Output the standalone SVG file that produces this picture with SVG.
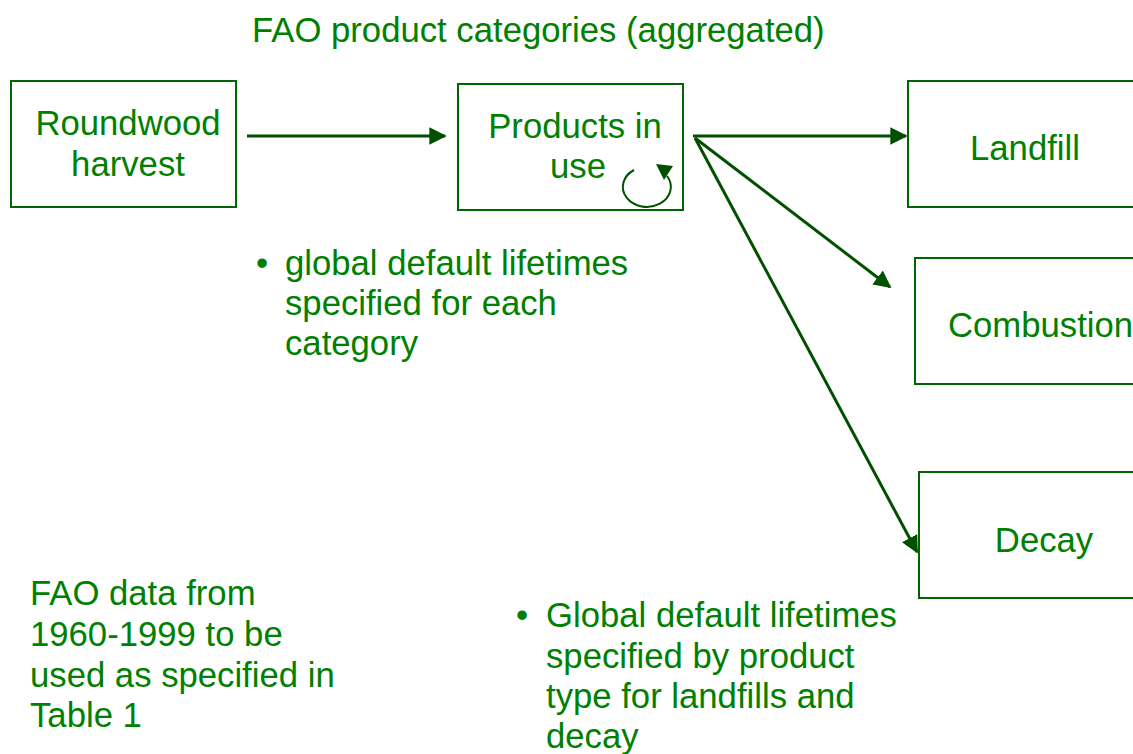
<svg xmlns="http://www.w3.org/2000/svg" width="1133" height="754" viewBox="0 0 1133 754">
<style>
text{font-family:"Liberation Sans",Arial,sans-serif;font-size:34.7px;fill:#008000}
.box{fill:#ffffff;stroke:#006400;stroke-width:2}
.conn{stroke:#005000;stroke-width:3;fill:none}
</style>
<defs>
<marker id="ah" viewBox="0 0 10 10" refX="9" refY="5" markerWidth="5.8" markerHeight="5.8" markerUnits="strokeWidth" orient="auto">
<path d="M0,0 L10,5 L0,10 z" fill="#005000"/>
</marker>
</defs>
<rect width="1133" height="754" fill="#ffffff"/>
<text x="252" y="42">FAO product categories (aggregated)</text>
<g id="roundwood">
<rect class="box" x="11" y="81" width="225" height="126"/>
<text x="128" y="135" text-anchor="middle">Roundwood</text>
<text x="128" y="176" text-anchor="middle">harvest</text>
</g>
<g id="products">
<rect class="box" x="458" y="84" width="225" height="126"/>
<text x="575" y="138" text-anchor="middle">Products in</text>
<text x="578" y="178" text-anchor="middle">use</text>
<path class="conn" style="stroke-width:2" d="M634,170 A24,20 0 1 0 667,176"/>
<polygon points="656,164 673,166 664,180" fill="#005000"/>
</g>
<g id="landfill">
<rect class="box" x="908" y="81" width="230" height="126"/>
<text x="1025" y="160" text-anchor="middle">Landfill</text>
</g>
<g id="combustion">
<rect class="box" x="915" y="258" width="230" height="126"/>
<text x="948" y="337">Combustion</text>
</g>
<g id="decay">
<rect class="box" x="919" y="472" width="230" height="126"/>
<text x="1044" y="552" text-anchor="middle">Decay</text>
</g>
<g id="connectors">
<line class="conn" x1="247" y1="136" x2="445" y2="136" marker-end="url(#ah)"/>
<line class="conn" x1="693" y1="136" x2="906" y2="136" marker-end="url(#ah)"/>
<line class="conn" x1="695" y1="138" x2="890" y2="287" marker-end="url(#ah)"/>
<line class="conn" x1="695" y1="138" x2="917" y2="552" marker-end="url(#ah)"/>
</g>
<g id="note1">
<text x="256" y="275">•</text>
<text x="285" y="275">global default lifetimes</text>
<text x="285" y="315">specified for each</text>
<text x="285" y="355">category</text>
</g>
<g id="note2">
<text x="30" y="605">FAO data from</text>
<text x="30" y="646">1960-1999 to be</text>
<text x="30" y="687">used as specified in</text>
<text x="30" y="727">Table 1</text>
</g>
<g id="note3">
<text x="516" y="627">•</text>
<text x="546" y="627">Global default lifetimes</text>
<text x="546" y="668">specified by product</text>
<text x="546" y="708">type for landfills and</text>
<text x="546" y="748">decay</text>
</g>
</svg>
